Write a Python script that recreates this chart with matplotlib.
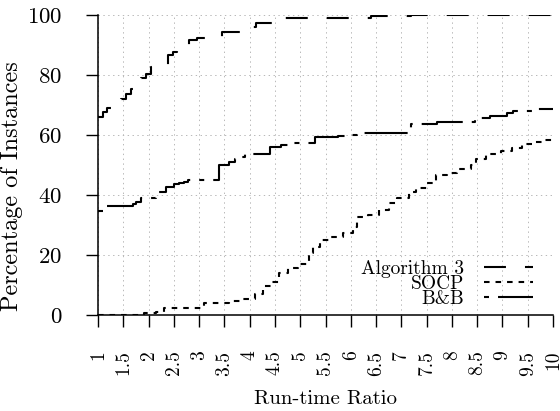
import matplotlib
matplotlib.use("Agg")
import matplotlib.pyplot as plt

plt.rcParams["font.family"] = "cmr10"
plt.rcParams["mathtext.fontset"] = "cm"
plt.rcParams["axes.formatter.use_mathtext"] = True
plt.rcParams["lines.scale_dashes"] = False

# performance profile data (ratio where a step happens, percentage after it)
alg3_r = [1.0, 1.10, 1.18, 1.45, 1.56, 1.65, 1.85, 1.95, 2.05, 2.38, 2.48, 2.56,
          2.80, 2.95, 3.45, 3.82, 4.12, 4.50, 4.65, 6.40, 7.20, 10.0]
alg3_p = [65.9, 67.8, 69.0, 71.9, 73.5, 75.2, 79.1, 80.2, 82.8, 86.7, 87.5, 88.3,
          91.7, 92.4, 94.4, 96.1, 97.4, 98.0, 98.9, 99.7, 100.0, 100.0]

socp_r = [1.0, 1.90, 2.15, 2.30, 3.10, 3.60, 3.85, 4.10, 4.27, 4.45, 4.58, 4.75,
          4.95, 5.17, 5.25, 5.40, 5.60, 5.85, 6.05, 6.12, 6.35, 6.55, 6.75, 6.92,
          7.15, 7.20, 7.30, 7.50, 7.68, 7.90, 8.10, 8.38, 8.48, 8.68, 8.97, 9.18,
          9.38, 9.60, 9.85, 10.0]
socp_p = [0.0, 0.8, 1.1, 2.2, 3.9, 4.6, 5.4, 6.9, 9.7, 11.1, 14.1, 15.6,
          17.0, 20.7, 22.8, 25.0, 26.1, 27.2, 29.4, 32.8, 33.3, 35.0, 37.2, 38.9,
          40.6, 41.1, 42.2, 43.9, 46.7, 47.2, 48.6, 50.0, 52.0, 53.6, 54.7, 55.6,
          57.0, 57.8, 58.3, 58.3]

bb_r = [1.0, 1.15, 1.69, 1.76, 1.86, 2.15, 2.35, 2.50, 2.60, 2.70, 2.79, 3.40,
        3.60, 3.70, 3.80, 3.90, 4.40, 4.62, 4.86, 5.30, 5.75, 6.00, 6.12, 7.20,
        7.70, 8.45, 8.75, 9.09, 9.21, 9.60, 10.0]
bb_p = [34.8, 36.3, 37.0, 37.8, 38.9, 41.1, 42.6, 43.6, 44.1, 44.4, 45.0, 50.0,
        51.1, 52.0, 52.8, 53.6, 55.9, 56.7, 57.2, 59.2, 59.7, 60.0, 60.8, 63.7,
        64.4, 65.8, 66.3, 67.2, 68.1, 68.6, 68.6]

x_ticks = [1 + 0.5 * i for i in range(19)]
x_labels = ["1", "1.5", "2", "2.5", "3", "3.5", "4", "4.5", "5", "5.5", "6",
            "6.5", "7", "7.5", "8", "8.5", "9", "9.5", "10"]
y_ticks = [0, 20, 40, 60, 80, 100]

fig = plt.figure(figsize=(5.6, 4.11), dpi=100)
ax = fig.add_axes([0.175, 0.2336, 0.8125, 0.73])

lw = 1.5
ax.step(alg3_r, alg3_p, where="post", color="black", lw=lw,
        linestyle=(0, (15.8, 13.7)), dash_capstyle="butt", label="Algorithm 3")
ax.step(socp_r, socp_p, where="post", color="black", lw=lw,
        linestyle=(0, (4.0, 4.3)), dash_capstyle="butt", label="SOCP")
ax.step(bb_r, bb_p, where="post", color="black", lw=lw,
        linestyle=(37.5, (31, 6.5, 3.6, 6.5)), dash_capstyle="butt", label="B&B")

ax.set_xlim(1, 10)
ax.set_ylim(0, 100)
ax.set_xticks(x_ticks)
ax.set_xticklabels(x_labels, rotation=90, va="top", ha="center")
ax.set_yticks(y_ticks)
ax.tick_params(direction="out", length=8.6, width=1.0, pad=17)
ax.tick_params(axis="x", labelsize=14)
ax.tick_params(axis="y", labelsize=16.5)

ax.grid(True, color="#b8b8b8", linestyle=(0, (1, 2.5)), linewidth=0.7)
ax.set_axisbelow(True)
for side in ["top", "right"]:
    ax.spines[side].set_visible(False)
for side in ["left", "bottom"]:
    ax.spines[side].set_linewidth(1.1)

ax.set_xlabel("Run-time Ratio", fontsize=15)
ax.xaxis.set_label_coords(0.5, -0.25)
ax.set_ylabel("Percentage of Instances", fontsize=17.5)
ax.yaxis.set_label_coords(-0.165, 0.43)

ax.legend(loc="lower right", bbox_to_anchor=(0.956, 0.023), frameon=False,
          markerfirst=False, fontsize=14, handlelength=2.5, handletextpad=1.05,
          labelspacing=-0.14, borderpad=0, borderaxespad=0)

fig.savefig("out.png", dpi=100)
